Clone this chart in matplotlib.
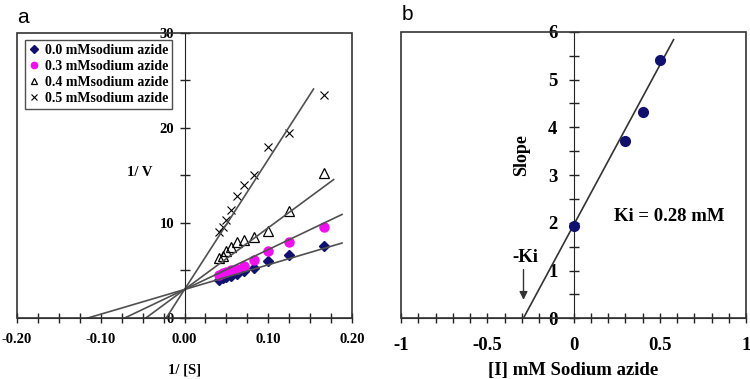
import matplotlib.pyplot as plt
import numpy as np
from matplotlib.patches import Rectangle
from matplotlib.ticker import MultipleLocator, FuncFormatter

plt.rcParams['axes.unicode_minus'] = False
SERIF = 'Liberation Serif'

# panel a: Lineweaver-Burk data (1/[S] vs 1/V)
inv_s = [0.1667, 0.125, 0.1, 0.0833, 0.0714, 0.0625, 0.0556, 0.05, 0.0455, 0.0417]
v_00 = [7.6, 6.6, 6.0, 5.3, 4.95, 4.6, 4.45, 4.3, 4.2, 4.05]
v_03 = [9.6, 8.0, 7.1, 6.1, 5.45, 5.2, 5.0, 4.85, 4.7, 4.55]
v_04 = [15.3, 11.3, 9.2, 8.5, 8.25, 8.0, 7.5, 7.0, 6.5, 6.3]
v_05 = [23.5, 19.5, 18.0, 15.0, 14.0, 12.8, 11.4, 10.3, 9.6, 9.1]
labels_a = ['0.0 mMsodium azide', '0.3 mMsodium azide',
            '0.4 mMsodium azide', '0.5 mMsodium azide']

# fitted lines (common intercept on 1/V axis)
fit_intercept_a = 3.0
fit_slopes_a = [26, 42, 65, 137]
fit_end_a = [0.188, 0.188, 0.178, 0.154]

# panel b: secondary plot of slopes
conc = [0, 0.3, 0.4, 0.5]
slopes = [1.93, 3.72, 4.32, 5.42]
fit_slope_b = 6.7
fit_intercept_b = 1.95
fit_end_b = 0.58

navy = '#10106e'
magenta = '#ee11ee'
linec = '#505050'

fig = plt.figure(figsize=(7.5, 3.79), dpi=100)
ax1 = fig.add_axes([0.0227, 0.161, 0.4467, 0.752])
ax2 = fig.add_axes([0.5347, 0.160, 0.46, 0.756])


def style_axes(ax, ylab_pad, xlab_pad, size):
    for s in ['top', 'right']:
        ax.spines[s].set_visible(False)
    ax.spines['left'].set_position(('data', 0))
    ax.spines['left'].set_color('#222222')
    ax.spines['bottom'].set_color('#222222')
    ax.add_patch(Rectangle((0, 0), 1, 1, transform=ax.transAxes, fill=False,
                           edgecolor='#333333', lw=1.2, clip_on=False, zorder=5))
    ax.tick_params(which='both', direction='inout', length=7, width=1, color='#222222')
    ax.tick_params(axis='y', pad=ylab_pad)
    ax.tick_params(axis='x', pad=xlab_pad)
    for lab in ax.get_xticklabels() + ax.get_yticklabels():
        lab.set_fontfamily(SERIF)
        lab.set_fontweight('bold')
        lab.set_fontsize(size)


# ---- panel a ----
series = [v_00, v_03, v_04, v_05]
mk = [dict(marker='D', color=navy, ms=5.5, mec=navy),
      dict(marker='o', color=magenta, ms=6.5, mec=magenta),
      dict(marker='^', color='none', ms=7, mec='black', mew=0.9),
      dict(marker='x', color='black', ms=5.5, mew=0.8)]
for vals, st, lab in zip(series, mk, labels_a):
    ax1.plot(inv_s, vals, ls='none', label=lab, **st)

for k, end in zip(fit_slopes_a, fit_end_a):
    x0 = -fit_intercept_a / k
    xs = np.array([x0, end])
    ax1.plot(xs, fit_intercept_a + k * xs, color=linec, lw=1.2)

ax1.set_xlim(-0.2, 0.2)
ax1.set_ylim(0, 30)
ax1.xaxis.set_major_locator(MultipleLocator(0.1))
ax1.xaxis.set_minor_locator(MultipleLocator(0.025))
ax1.xaxis.set_major_formatter(FuncFormatter(lambda v, p: '%.2f' % v))
ax1.yaxis.set_major_locator(MultipleLocator(5))
ax1.yaxis.set_major_formatter(FuncFormatter(lambda v, p: '%d' % v if round(v) % 10 == 0 else ''))
style_axes(ax1, 4, 7, 10.5)

ax1.text(-0.053, 15.3, '1/ V', family=SERIF, weight='bold', fontsize=10.5,
         ha='center', va='center')
ax1.set_xlabel('1/ [S]', family=SERIF, weight='bold', fontsize=10.5, labelpad=13)
leg = ax1.legend(loc='upper left', bbox_to_anchor=(0.024, 0.975), frameon=True,
                 borderaxespad=0, fancybox=False, edgecolor='#222222', borderpad=0.3,
                 handlelength=0.7, handletextpad=0.4, labelspacing=0.2,
                 markerscale=0.7,
                 prop=dict(family=SERIF, weight='bold', size=10))
leg.get_frame().set_linewidth(1)
fig.text(0.03, 0.955, 'a', family='Liberation Sans', fontsize=15, ha='center', va='center')

# ---- panel b ----
ax2.plot(conc, slopes, ls='none', marker='o', ms=7, color=navy, zorder=3)
x0 = -fit_intercept_b / fit_slope_b
xs = np.array([x0, fit_end_b])
ax2.plot(xs, fit_intercept_b + fit_slope_b * xs, color='#333333', lw=1.2)
ax2.set_xlim(-1, 1)
ax2.set_ylim(0, 6)
ax2.xaxis.set_major_locator(MultipleLocator(0.5))
ax2.xaxis.set_minor_locator(MultipleLocator(0.1))
ax2.xaxis.set_major_formatter(FuncFormatter(lambda v, p: '%g' % v))
ax2.yaxis.set_major_locator(MultipleLocator(1))
ax2.yaxis.set_minor_locator(MultipleLocator(0.5))
ax2.yaxis.set_major_formatter(FuncFormatter(lambda v, p: '%d' % v))
style_axes(ax2, 8, 10, 13.5)

ax2.text(-0.3, 3.42, 'Slope', family=SERIF, weight='bold', fontsize=13,
         rotation=90, ha='center', va='center')
ax2.text(0.235, 2.14, 'Ki = 0.28 mM', family=SERIF, weight='heavy', fontsize=13.5,
         ha='left', va='center')
ax2.text(-0.355, 1.28, '-Ki', family=SERIF, weight='bold', fontsize=13.5,
         ha='left', va='center')
ax2.annotate('', xy=(-0.29, 0.33), xytext=(-0.29, 1.08),
             arrowprops=dict(arrowstyle='-|>', color='#333333', lw=1, mutation_scale=12))
ax2.set_xlabel('[I] mM Sodium azide', family=SERIF, weight='bold', fontsize=13.5,
               labelpad=6)
fig.text(0.5427, 0.962, 'b', family='Liberation Sans', fontsize=15, ha='center', va='center')

fig.savefig('out.png', dpi=100)
